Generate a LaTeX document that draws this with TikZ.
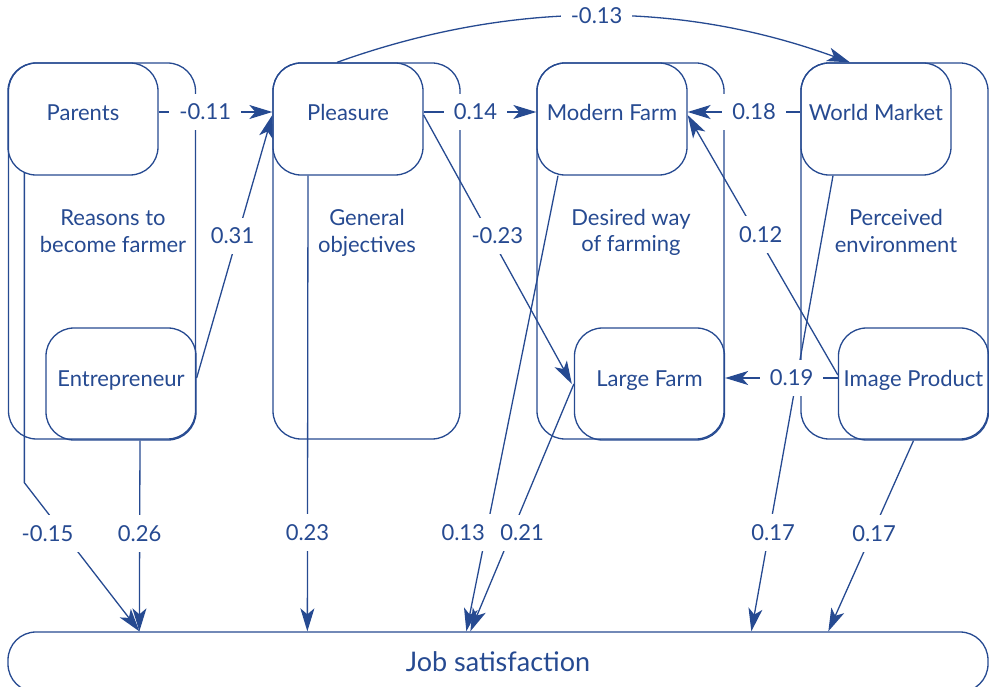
\documentclass[tikz,border=0pt]{standalone}
\usepackage{fontspec}
\setmainfont{Lato}
\usetikzlibrary{arrows.meta,calc}
\definecolor{ink}{HTML}{264A91}

\begin{document}
\begin{tikzpicture}[x=1pt,y=-1pt,
  every node/.style={text=ink,font=\fontsize{22}{26.5}\selectfont},
  outline/.style={draw=ink,line width=1.3pt,rounded corners=28pt,inner sep=0pt},
  group/.style={outline,minimum width=187pt,minimum height=376pt},
  factor/.style={outline,minimum width=150pt,minimum height=112pt,
                 text height=17pt,text depth=13pt},
  grouptext/.style={align=center},
  conn/.style={draw=ink,line width=1.3pt,
               -{Stealth[length=23pt,width=14pt,inset=6pt]}},
  lbl/.style={fill=white,inner xsep=10pt,inner ysep=10.5pt,
              text height=15.8pt,text depth=0pt}
]
\useasboundingbox (0,0) rectangle (989,687);

% ---- groups of factors ----
\node[group] (g1) at (102,251) {};
\node[group] (g2) at (366.5,251) {};
\node[group] (g3) at (630.5,251) {};
\node[group] (g4) at (894.5,251) {};

\node[grouptext] (t1) at (113,231) {Reasons to\\become farmer};
\node[grouptext] (t2) at (367,233) {General\\objectives};
\node[grouptext] (t3) at (631,232.5) {Desired way\\of farming};
\node[grouptext] (t4) at (896,231) {Perceived\\environment};

% ---- factors ----
\node[factor] (parents)  at (83,119)    {Parents};
\node[factor] (entre)    at (121,384)   {Entrepreneur};
\node[factor] (pleasure) at (348,119)   {Pleasure};
\node[factor] (modern)   at (612,119)   {Modern Farm};
\node[factor] (large)    at (649.5,384) {Large Farm};
\node[factor] (world)    at (876,119)   {World Market};
\node[factor] (image)    at (913.5,384) {Image Product};

% ---- outcome ----
\node[outline,minimum width=980pt,minimum height=60pt,
      font=\fontsize{27}{32}\selectfont] (job) at (498,662) {Job satisfaction};

% ---- effects on job satisfaction ----
\draw[conn] ([xshift=17pt,yshift=2.5pt]parents.south west) -- ++(0,309.5)
  -- node[lbl,pos=0.34,xshift=-16pt] {-0.15} ([xshift=132pt]job.north west);
\draw[conn] ([xshift=19pt]entre.south)
  -- node[lbl,pos=0.487] {0.26} ([xshift=132pt]job.north west);
\draw[conn] ([xshift=-40pt]pleasure.south)
  -- node[lbl,pos=0.783] {0.23} ([xshift=300pt]job.north west);
\draw[conn] ([xshift=-54pt]modern.south)
  -- node[lbl,pos=0.783,xshift=-23pt] {0.13} ([xshift=459pt]job.north west);
\draw[conn] (large.west)
  -- node[lbl,pos=0.602,xshift=10.5pt] {0.21} ([xshift=463pt]job.north west);
\draw[conn] ([xshift=-43pt]world.south)
  -- node[lbl,pos=0.783,xshift=4pt] {0.17} ([xshift=744pt]job.north west);
\draw[conn] (image.south)
  -- node[lbl,pos=0.487,xshift=2pt] {0.17} ([xshift=821pt]job.north west);

% ---- effects between factors ----
\draw[conn] ([yshift=7pt]parents.east)
  -- node[lbl,pos=0.41] {-0.11} ([yshift=7pt]pleasure.west);
\draw[conn] ([yshift=6pt]entre.east)
  -- node[lbl,pos=0.54,xshift=-5pt] {0.31} ([yshift=4pt]pleasure.west);
\draw[conn] ([yshift=7pt]pleasure.east)
  -- node[lbl,pos=0.46] {0.14} ([yshift=7pt]modern.west);
\draw[conn] ([yshift=7pt]world.west)
  -- node[lbl,pos=0.41] {0.18} ([yshift=7pt]modern.east);
\draw[conn] ([yshift=9pt]image.west)
  -- node[lbl,pos=0.54,xshift=4pt] {0.12} ([yshift=4pt]modern.east);
\draw[conn] ([yshift=6pt]image.west)
  -- node[lbl,pos=0.41] {0.19} ([yshift=6pt]large.east);
\draw[conn] ([yshift=4pt]pleasure.east)
  -- node[lbl,pos=0.45,xshift=7pt] {-0.23} ([xshift=-2pt]large.west);
\draw[conn] ([xshift=-11pt]pleasure.north)
  .. controls +(173,-62) and +(-170,-62) ..
  node[lbl,pos=0.5,xshift=2pt] {-0.13} ([xshift=-26pt]world.north);
\end{tikzpicture}
\end{document}
